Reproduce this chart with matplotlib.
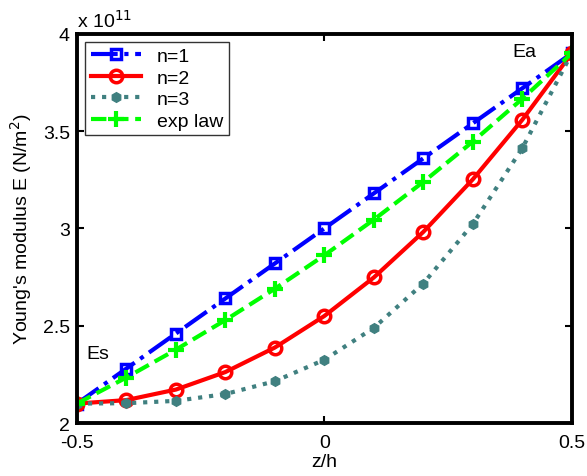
import numpy as np
import matplotlib.pyplot as plt

plt.rcParams['font.family'] = ['Liberation Sans', 'DejaVu Sans']

## data (E in units of 1e11 N/m^2)
zh = [-0.5, -0.4, -0.3, -0.2, -0.1, 0.0, 0.1, 0.2, 0.3, 0.4, 0.5]
E_n1 = [2.10, 2.28, 2.46, 2.64, 2.82, 3.00, 3.18, 3.36, 3.54, 3.72, 3.90]
E_n2 = [2.100, 2.118, 2.172, 2.262, 2.388, 2.550, 2.748, 2.982, 3.252, 3.558, 3.900]
E_n3 = [2.100, 2.102, 2.114, 2.149, 2.215, 2.325, 2.489, 2.717, 3.022, 3.412, 3.900]
E_exp = [2.100, 2.234, 2.377, 2.529, 2.690, 2.862, 3.045, 3.239, 3.446, 3.666, 3.900]

fig = plt.figure(figsize=(5.87, 4.77), dpi=100)
ax = fig.add_axes([0.131, 0.111, 0.843, 0.816])

ax.plot(zh, E_n1, color='blue', ls='-.', lw=3, marker='s', ms=7, mfc='none', mew=2.5, label='n=1')
ax.plot(zh, E_n2, color='red', ls='-', lw=3, marker='o', ms=9, mfc='none', mew=2.5, label='n=2')
ax.plot(zh, E_n3, color='#408080', ls=':', lw=3, marker='h', ms=7, mfc='#408080', label='n=3')
ax.plot(zh, E_exp, color='#00ff00', ls='--', lw=3, marker='+', ms=11, mew=3, label='exp law')

ax.set_xlim(-0.5, 0.5)
ax.set_ylim(2, 4)
ax.set_xticks([-0.5, 0, 0.5])
ax.set_xticklabels(['-0.5', '0', '0.5'])
ax.set_yticks([2, 2.5, 3, 3.5, 4])
ax.set_yticklabels(['2', '2.5', '3', '3.5', '4'])
ax.tick_params(direction='in', top=True, right=True, labelsize=14, width=1.5, length=5, pad=5)
ax.tick_params(axis='x', pad=8)
for s in ax.spines.values():
    s.set_linewidth(2.8)

ax.set_xlabel('z/h', fontsize=14, labelpad=1)
ax.set_ylabel('Young\'s modulus E (N/m$^2$)', fontsize=14, labelpad=6)
ax.text(0.0, 1.008, r'x 10$^{11}$', transform=ax.transAxes, fontsize=14, ha='left', va='bottom')

ax.text(-0.48, 2.355, 'Es', fontsize=14, va='center')
ax.text(0.38, 3.91, 'Ea', fontsize=14, va='center')

leg = ax.legend(loc='upper left', fontsize=14, fancybox=False, edgecolor='black',
                handlelength=2.6, borderaxespad=0.4, labelspacing=0.2, borderpad=0.3)
leg.get_frame().set_linewidth(1)

plt.savefig('out.png', dpi=100)
